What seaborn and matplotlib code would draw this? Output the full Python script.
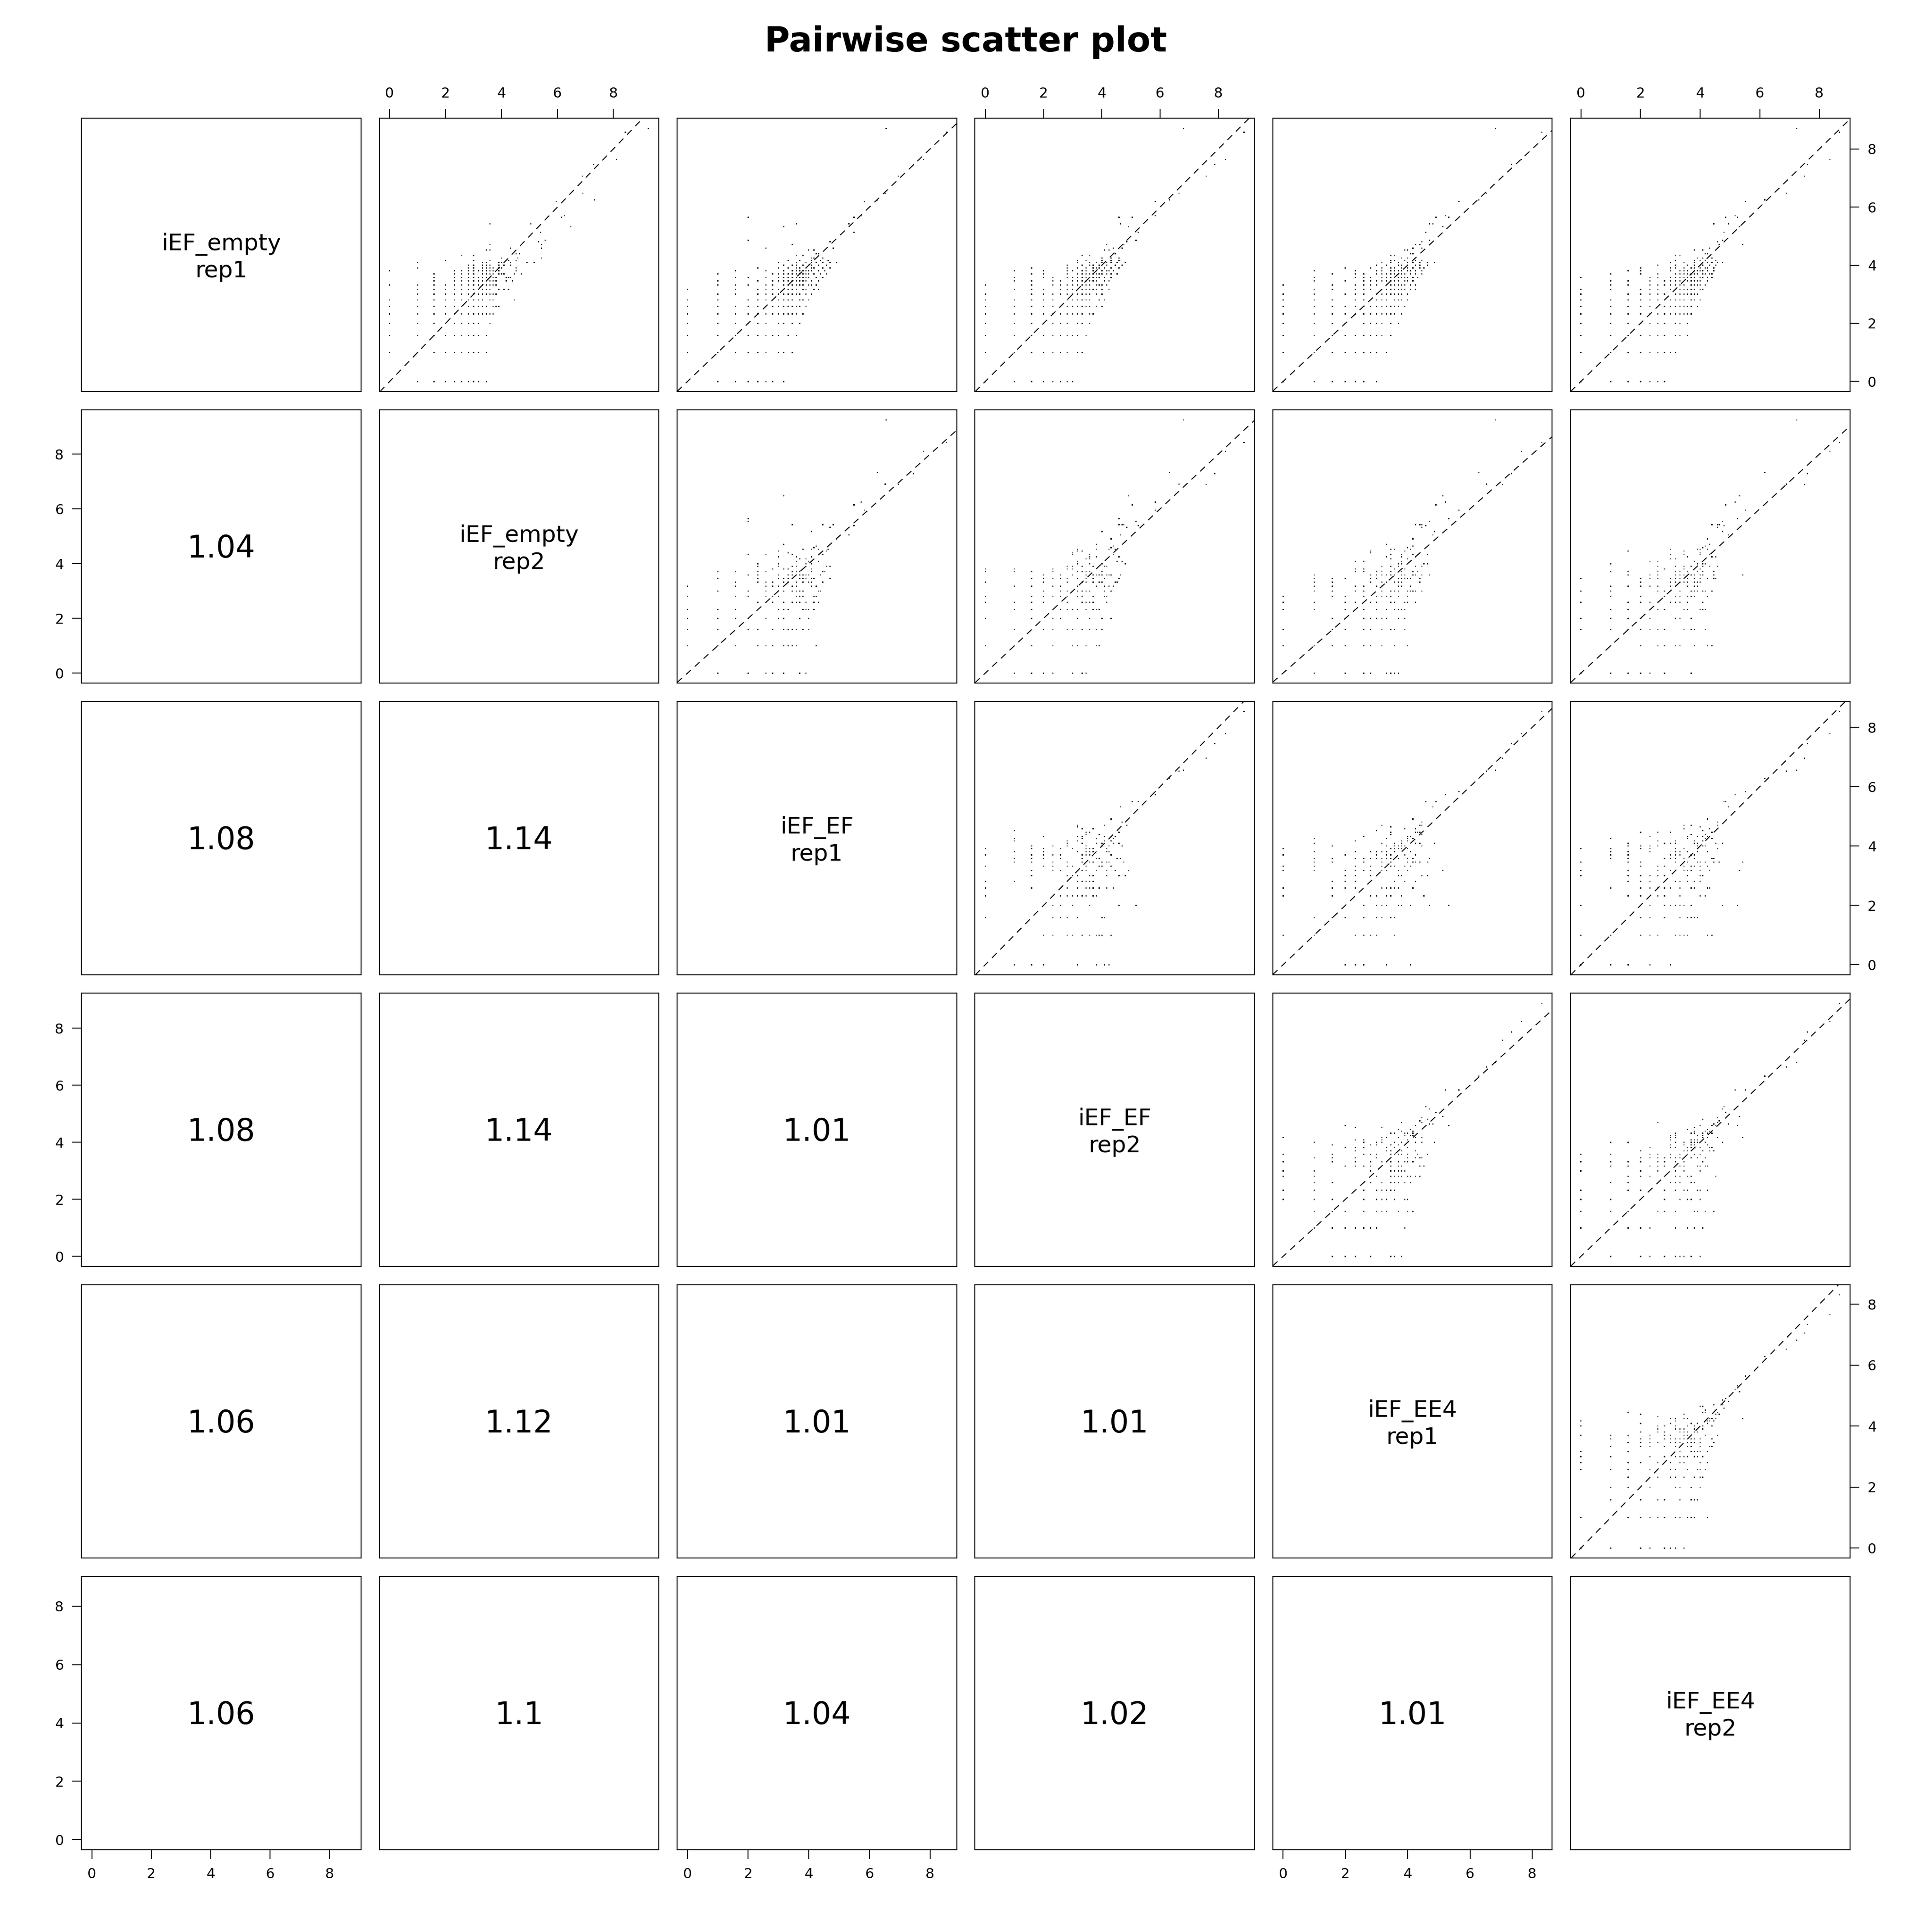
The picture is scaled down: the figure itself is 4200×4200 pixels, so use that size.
import numpy as np
import pandas as pd
import matplotlib
matplotlib.use("Agg")
import matplotlib.pyplot as plt
import seaborn as sns

# ---------------- data (raw counts; plotted as log2) ----------------
iEF_empty_rep1 = [
    1, 1, 1, 1, 1, 1, 1, 1, 1,
    2, 2, 2, 2, 2, 2, 2, 2, 2, 2,
    3, 3, 3, 3, 3, 3, 3, 3, 3, 3,
    4, 4, 4, 4, 4, 4, 4, 4, 4, 4,
    5, 5, 5, 5, 5, 5, 5, 5, 5, 5, 5, 5, 5,
    6, 6, 6, 6, 6, 6, 6, 6, 6, 6, 6, 6, 6, 6,
    7, 7, 7, 7, 7, 7, 7, 7, 7, 7, 7, 7, 7,
    8, 8, 8, 8, 8, 8, 8, 8, 8, 8, 8, 8, 8,
    9, 9, 9, 9, 9, 9, 9, 9, 9, 9, 9, 9, 9, 9,
    10, 10, 10, 10, 10, 10, 10, 10, 10, 10, 10, 10, 10, 10,
    11, 11, 11, 11, 11, 11, 11, 11, 11, 11, 11, 11, 11,
    12, 12, 12, 12, 12, 12, 12, 12, 12, 12, 12, 12, 12, 12,
    13, 13, 13, 13, 13, 13, 13, 13, 13, 13, 13, 13, 13, 13,
    14, 14, 14, 14, 14, 14, 14, 14, 14, 14, 14, 14,
    15, 15, 15, 15, 15, 15, 15, 15, 15, 15,
    16, 16, 16, 16, 16, 16, 16, 16,
    17, 17, 17, 17, 17, 17, 17, 17,
    18, 18, 18, 18, 18,
    419, 380, 198, 177, 134, 89, 76, 73, 52, 50, 50, 40, 43, 43, 35,
    29, 28, 26, 26, 24, 24, 23, 23, 21, 21, 20, 20, 19, 19, 19,
]
iEF_empty_rep2 = [
    2, 3, 4, 5, 6, 7, 8, 9, 11,
    1, 2, 3, 4, 5, 6, 7, 8, 9, 11,
    1, 2, 3, 4, 5, 6, 7, 8, 9, 11,
    1, 2, 3, 4, 5, 6, 7, 8, 9, 12,
    1, 2, 3, 4, 5, 6, 7, 8, 9, 10, 11, 12, 13,
    1, 2, 3, 4, 5, 6, 7, 8, 9, 10, 11, 13, 14, 15,
    1, 2, 3, 4, 5, 6, 7, 8, 9, 10, 12, 13, 22,
    2, 3, 4, 5, 6, 7, 8, 9, 10, 11, 12, 13, 14,
    2, 3, 4, 5, 6, 7, 8, 9, 10, 11, 12, 15, 17, 19,
    1, 2, 3, 4, 5, 6, 7, 8, 9, 10, 11, 12, 13, 14,
    3, 5, 6, 7, 8, 9, 10, 11, 12, 13, 14, 18, 21,
    3, 5, 6, 7, 8, 9, 10, 11, 12, 13, 14, 18, 19, 20,
    3, 5, 6, 7, 8, 10, 11, 12, 13, 15, 16, 17, 22, 26,
    1, 5, 6, 7, 8, 9, 10, 11, 12, 13, 15, 23,
    2, 7, 8, 10, 11, 12, 13, 15, 16, 23,
    7, 8, 10, 11, 12, 15, 17, 20,
    2, 10, 11, 15, 16, 20, 30, 36,
    4, 8, 12, 19, 23,
    610, 344, 276, 157, 119, 120, 161, 62, 76, 71, 50, 89, 33, 12, 42,
    47, 40, 12, 43, 20, 43, 11, 12, 23, 25, 6, 8, 16, 24, 43,
]
iEF_EF_rep1 = [
    3, 1, 6, 2, 9, 4, 2, 7, 5,
    1, 5, 2, 8, 3, 11, 4, 2, 6, 9,
    7, 2, 4, 1, 10, 5, 3, 12, 6, 8,
    2, 9, 5, 13, 3, 6, 1, 8, 11, 4,
    6, 1, 10, 4, 14, 7, 3, 9, 12, 5, 2, 8, 11,
    9, 3, 12, 6, 1, 15, 8, 4, 11, 7, 13, 2, 10, 5,
    4, 11, 7, 16, 2, 9, 13, 6, 1, 10, 14, 5, 8,
    12, 5, 9, 2, 15, 7, 11, 3, 17, 8, 13, 6, 10,
    7, 14, 3, 10, 18, 6, 12, 1, 9, 15, 5, 11, 20, 8,
    13, 6, 10, 2, 16, 9, 19, 4, 12, 7, 14, 11, 3, 17,
    9, 15, 5, 12, 20, 8, 14, 2, 11, 17, 7, 13, 10,
    16, 8, 13, 3, 11, 19, 6, 14, 10, 22, 9, 15, 12, 4,
    11, 18, 7, 14, 2, 16, 10, 21, 13, 8, 15, 12, 24, 9,
    15, 9, 20, 6, 13, 17, 3, 11, 16, 23, 12, 14,
    10, 18, 13, 22, 8, 15, 12, 26, 5, 17,
    14, 20, 9, 17, 12, 24, 16, 11,
    19, 12, 26, 15, 8, 22, 30, 17,
    13, 21, 10, 17, 25,
    94, 370, 221, 175, 124, 92, 77, 57, 53, 45, 4, 9, 40, 12, 45,
    4, 26, 11, 11, 6, 28, 18, 16, 20, 19, 12, 14, 17, 18, 22,
]
iEF_EF_rep2 = [
    5, 2, 1, 7, 3, 4, 8, 2, 6,
    4, 1, 7, 3, 9, 2, 5, 10, 3, 6,
    2, 8, 5, 3, 11, 1, 6, 4, 9, 7,
    10, 3, 7, 1, 5, 12, 4, 9, 2, 6,
    3, 9, 5, 12, 2, 7, 1, 10, 6, 13, 4, 8, 5,
    11, 5, 2, 9, 14, 4, 7, 12, 3, 10, 6, 16, 1, 8,
    8, 2, 12, 5, 15, 3, 10, 7, 17, 4, 11, 1, 9,
    3, 10, 6, 14, 1, 9, 12, 5, 16, 7, 4, 11, 8,
    11, 4, 16, 8, 2, 13, 6, 19, 10, 3, 14, 7, 9, 12,
    5, 15, 8, 12, 3, 18, 10, 6, 14, 1, 11, 16, 9, 7,
    14, 6, 11, 3, 17, 9, 13, 5, 19, 10, 2, 12, 8,
    7, 13, 4, 17, 10, 2, 15, 9, 20, 12, 5, 11, 14, 8,
    16, 9, 13, 4, 20, 11, 7, 15, 3, 18, 12, 23, 10, 14,
    8, 14, 4, 18, 11, 21, 7, 13, 16, 2, 10, 19,
    15, 7, 20, 11, 24, 13, 3, 17, 9, 14,
    18, 10, 22, 7, 15, 13, 26, 12,
    14, 23, 9, 18, 28, 12, 20, 16,
    20, 11, 16, 24, 9,
    112, 471, 302, 234, 191, 100, 80, 57, 57, 33, 24, 30, 25, 25, 38,
    36, 29, 18, 27, 21, 26, 17, 19, 22, 21, 10, 12, 16, 20, 24,
]
iEF_EE4_rep1 = [
    2, 6, 3, 1, 4, 8, 2, 5, 3,
    6, 3, 1, 8, 4, 2, 10, 5, 3, 7,
    4, 1, 9, 6, 2, 7, 11, 3, 5, 8,
    7, 2, 11, 4, 8, 1, 6, 13, 3, 9,
    10, 4, 1, 8, 5, 12, 3, 9, 6, 14, 2, 7, 11,
    2, 12, 7, 4, 10, 1, 13, 6, 9, 3, 15, 8, 5, 11,
    13, 6, 3, 10, 8, 16, 1, 12, 5, 9, 2, 14, 7,
    9, 1, 13, 6, 11, 4, 16, 8, 2, 14, 10, 5, 12,
    3, 12, 9, 15, 5, 11, 2, 17, 7, 13, 10, 19, 6, 14,
    11, 3, 15, 7, 13, 1, 10, 17, 5, 12, 8, 19, 6, 14,
    4, 12, 8, 16, 6, 13, 10, 2, 18, 9, 15, 11, 7,
    12, 5, 15, 9, 18, 2, 13, 7, 11, 20, 6, 16, 10, 14,
    6, 14, 19, 9, 12, 3, 17, 11, 8, 22, 13, 5, 15, 10,
    12, 5, 16, 9, 19, 14, 2, 11, 22, 8, 13, 17,
    7, 16, 11, 21, 4, 14, 18, 9, 23, 12,
    10, 16, 13, 21, 8, 19, 14, 25,
    16, 9, 21, 13, 25, 11, 18, 29,
    15, 22, 12, 19, 11,
    113, 317, 202, 162, 133, 92, 78, 50, 37, 30, 40, 35, 28, 26, 24,
    26, 22, 19, 21, 18, 22, 16, 15, 17, 18, 11, 12, 14, 16, 19,
]
iEF_EE4_rep2 = [
    4, 1, 2, 5, 3, 7, 1, 3, 6,
    2, 7, 4, 1, 5, 3, 9, 6, 2, 8,
    5, 9, 1, 3, 7, 4, 10, 2, 6, 12,
    1, 6, 3, 9, 12, 5, 2, 7, 4, 10,
    7, 2, 11, 5, 3, 9, 13, 1, 8, 4, 10, 6, 12,
    13, 7, 3, 10, 5, 1, 12, 8, 15, 4, 9, 2, 11, 6,
    1, 9, 14, 4, 11, 6, 2, 13, 8, 16, 5, 10, 3,
    14, 7, 3, 12, 5, 10, 1, 15, 9, 4, 13, 6, 11,
    10, 2, 13, 6, 17, 4, 14, 8, 11, 1, 16, 9, 5, 12,
    3, 14, 6, 10, 18, 8, 2, 13, 9, 16, 5, 11, 15, 7,
    13, 2, 10, 7, 15, 5, 12, 19, 9, 3, 14, 8, 16,
    5, 17, 10, 14, 1, 12, 8, 19, 13, 6, 16, 9, 21, 11,
    18, 6, 12, 10, 21, 15, 4, 13, 9, 17, 2, 14, 11, 20,
    4, 16, 12, 19, 8, 14, 10, 22, 3, 17, 11, 15,
    19, 9, 14, 4, 16, 11, 22, 13, 18, 8,
    9, 17, 12, 23, 14, 20, 6, 16,
    21, 14, 11, 24, 17, 8, 19, 27,
    9, 18, 14, 23, 16,
    151, 410, 326, 194, 182, 119, 72, 46, 36, 29, 38, 40, 31, 22, 28,
    27, 24, 43, 25, 20, 24, 14, 17, 19, 18, 9, 10, 15, 17, 21,
]

sample_cols = ["iEF_empty_rep1", "iEF_empty_rep2", "iEF_EF_rep1",
               "iEF_EF_rep2", "iEF_EE4_rep1", "iEF_EE4_rep2"]
diag_line1 = ["iEF_empty", "iEF_empty", "iEF_EF", "iEF_EF", "iEF_EE4", "iEF_EE4"]
diag_line2 = ["rep1", "rep2", "rep1", "rep2", "rep1", "rep2"]
lower_text = [
    [],
    ["1.04"],
    ["1.08", "1.14"],
    ["1.08", "1.14", "1.01"],
    ["1.06", "1.12", "1.01", "1.01"],
    ["1.06", "1.1", "1.04", "1.02", "1.01"],
]
tick_values = [0, 2, 4, 6, 8]
title_text = "Pairwise scatter plot"

# ---------------- build table ----------------
raw = {
    "iEF_empty_rep1": iEF_empty_rep1,
    "iEF_empty_rep2": iEF_empty_rep2,
    "iEF_EF_rep1": iEF_EF_rep1,
    "iEF_EF_rep2": iEF_EF_rep2,
    "iEF_EE4_rep1": iEF_EE4_rep1,
    "iEF_EE4_rep2": iEF_EE4_rep2,
}
lens = {k: len(v) for k, v in raw.items()}
n = min(lens.values())
df = pd.DataFrame({k: np.log2(np.asarray(v[:n], dtype=float)) for k, v in raw.items()})

lims = []
for c in sample_cols:
    lo, hi = df[c].min(), df[c].max()
    pad = 0.04 * (hi - lo)
    lims.append((lo - pad, hi + pad))

# ---------------- figure ----------------
sns.set_theme(style="white")
plt.rcParams['font.family'] = ['DejaVu Sans']
plt.rcParams['lines.scale_dashes'] = False

W = 4200.0
fig = plt.figure(figsize=(14, 14), dpi=300)
fig.patch.set_facecolor("white")

LW = 0.5
col_left0, col_pitch, pw = 177.2, 647.4, 607.5
row_top0, row_pitch, ph = 256.8, 634.0, 594.5

tick_kw = dict(direction="out", length=4.8, width=LW, labelsize=7.3,
               pad=4.4, colors="black")

for i in range(6):
    for j in range(6):
        left = (col_left0 + col_pitch * j) / W
        top = row_top0 + row_pitch * i
        ax = fig.add_axes([left, 1 - (top + ph) / W, pw / W, ph / W])
        ax.set_facecolor("white")
        ax.grid(False)
        if j > i:
            sns.scatterplot(x=df[sample_cols[j]], y=df[sample_cols[i]], ax=ax,
                            marker="s", s=0.35, color="black", linewidth=0,
                            edgecolor="none", legend=False)
            ax.axline((0, 0), slope=1, color="black", lw=LW,
                      linestyle=(0, (3.4, 2.8)))
        elif i == j:
            ax.text(0.5, 0.5 + 10.5 / ph, diag_line1[i], transform=ax.transAxes,
                    ha="center", va="baseline", fontsize=12.0, color="black")
            ax.text(0.5, 0.5 - 48.8 / ph, diag_line2[i], transform=ax.transAxes,
                    ha="center", va="baseline", fontsize=12.0, color="black")
        else:
            ax.text(0.5, 0.5 - 24.3 / ph, lower_text[i][j], transform=ax.transAxes,
                    ha="center", va="baseline", fontsize=16.0, color="black")
        ax.set_xlim(lims[j])
        ax.set_ylim(lims[i])
        ax.set_xlabel("")
        ax.set_ylabel("")
        for sp in ax.spines.values():
            sp.set_visible(True)
            sp.set_color("black")
            sp.set_linewidth(LW)
        ax.set_xticks(tick_values)
        ax.set_yticks(tick_values)
        ax.set_xticklabels([str(t) for t in tick_values])
        ax.set_yticklabels([str(t) for t in tick_values])
        ax.tick_params(axis="both", bottom=False, top=False, left=False, right=False,
                       labelbottom=False, labeltop=False, labelleft=False,
                       labelright=False, **tick_kw)
        if i == 0 and j % 2 == 1:
            ax.tick_params(axis="x", top=True, labeltop=True)
        if i == 5 and j % 2 == 0:
            ax.tick_params(axis="x", bottom=True, labelbottom=True)
        if j == 0 and i % 2 == 1:
            ax.tick_params(axis="y", left=True, labelleft=True)
        if j == 5 and i % 2 == 0:
            ax.tick_params(axis="y", right=True, labelright=True)

fig.text(0.5, 1 - 112 / W, title_text, ha="center", va="baseline",
         fontsize=18.0, fontweight="bold", color="black")

fig.savefig("out.png", dpi=300, facecolor="white")
print(lens)
